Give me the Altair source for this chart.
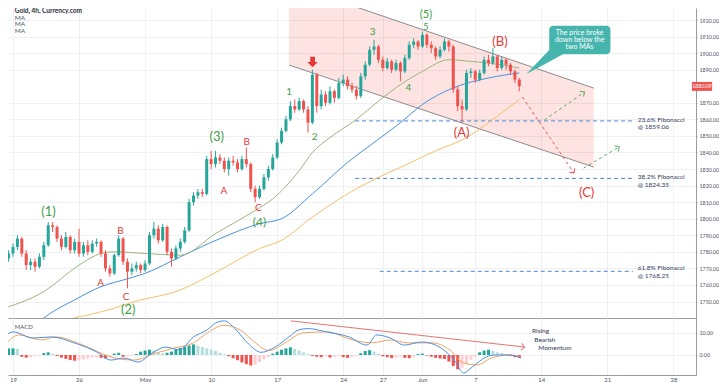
import altair as alt
import pandas as pd

# ---------------- data ----------------
candle_idx = list(range(-1, 116))  # 3 candles per trading day, index 0 = Apr 19
opens = [1776,1779,1783,1788,1779,1772,1774,1771,1777,1784,
         1796,1795,1788,1783,1789,1781,1786,1779,1784,1780,
         1785,1786,1779,1770,1767,1778,1788,1774,1768,1770,
         1772,1769,1773,1790,1794,1787,1795,1780,1776,1782,
         1786,1793,1810,1814,1816,1815,1836,1833,1837,1835,
         1830,1835,1834,1830,1836,1833,1818,1813,1818,1825,
         1830,1837,1846,1853,1860,1868,1866,1871,1866,1858,
         1887,1868,1875,1870,1877,1873,1882,1884,1880,1878,
         1874,1886,1893,1902,1904,1896,1891,1895,1890,1894,
         1889,1897,1905,1907,1904,1911,1905,1903,1898,1902,
         1907,1904,1878,1868,1866,1888,1889,1884,1888,1896,
         1894,1898,1891,1896,1893,1889,1884]
highs = [1781,1785,1790,1789,1781,1776,1776,1779,1786,1798,
         1798,1796,1790,1792,1790,1788,1794,1786,1787,1787,
         1788,1787,1781,1772,1779,1790,1789,1776,1773,1774,
         1773,1775,1792,1798,1796,1797,1796,1782,1784,1788,
         1795,1812,1816,1818,1818,1838,1841,1841,1839,1837,
         1837,1838,1836,1838,1843,1834,1820,1820,1827,1832,
         1839,1848,1855,1862,1871,1872,1873,1872,1868,1890,
         1888,1878,1877,1880,1878,1885,1887,1886,1882,1880,
         1888,1895,1904,1908,1905,1898,1897,1896,1896,1895,
         1899,1907,1909,1908,1913,1912,1907,1904,1904,1909,
         1908,1905,1880,1872,1890,1891,1890,1890,1898,1899,
         1903,1899,1898,1897,1894,1890,1885]
lows = [1774,1777,1781,1777,1769,1769,1768,1770,1775,1783,
        1792,1786,1781,1782,1779,1779,1777,1777,1778,1779,
        1783,1777,1768,1765,1766,1777,1772,1758,1766,1768,
        1767,1768,1772,1788,1785,1786,1778,1771,1775,1780,
        1785,1792,1808,1812,1813,1814,1830,1831,1833,1828,
        1826,1832,1828,1829,1831,1816,1810,1812,1817,1823,
        1829,1836,1845,1852,1859,1864,1865,1864,1852,1857,
        1864,1866,1868,1869,1870,1872,1880,1878,1876,1872,
        1873,1884,1892,1899,1894,1889,1890,1888,1889,1883,
        1888,1896,1903,1902,1903,1903,1900,1896,1897,1901,
        1901,1876,1865,1858,1865,1885,1882,1883,1887,1892,
        1893,1889,1890,1890,1887,1882,1877]
closes = [1779,1783,1788,1779,1772,1774,1771,1777,1784,1796,
          1795,1788,1783,1789,1781,1786,1779,1784,1780,1785,
          1786,1779,1770,1767,1778,1788,1774,1768,1770,1772,
          1769,1773,1790,1794,1787,1795,1780,1776,1782,1786,
          1793,1810,1814,1816,1815,1836,1833,1837,1835,1830,
          1835,1834,1830,1836,1833,1818,1813,1818,1825,1830,
          1837,1846,1853,1860,1868,1866,1871,1866,1858,1887,
          1868,1875,1870,1877,1873,1882,1884,1880,1878,1874,
          1886,1893,1902,1904,1896,1891,1895,1890,1894,1889,
          1897,1905,1907,1904,1911,1905,1903,1898,1902,1907,
          1904,1878,1868,1866,1888,1889,1884,1888,1896,1894,
          1898,1891,1896,1893,1889,1884,1880.09]

tick_idx = [0, 15, 30, 45, 60, 75, 84, 93, 105, 120, 135, 150]
tick_labels = ["19", "26", "May", "10", "17", "24", "27", "Jun", "7", "14", "21", "28"]
price_ticks = [1740, 1750, 1760, 1770, 1780, 1790, 1800, 1810, 1820, 1830, 1840, 1850, 1860, 1870,
               1890, 1900, 1910, 1920]

ma_green_idx = [-2, 7, 15, 20, 23, 30, 38, 46, 55, 59, 65, 68, 72, 78, 83, 88, 93, 99, 104, 108, 115]
ma_green_val = [1746, 1756, 1772, 1779, 1780, 1779, 1778, 1791, 1805, 1812, 1829, 1840, 1849, 1860, 1871, 1881, 1889, 1896, 1895, 1894, 1891]
ma_blue_idx = [6, 8, 14, 20, 25, 30, 38, 47, 56, 61, 68, 76, 83, 88, 93, 100, 108, 115]
ma_blue_val = [1738, 1742, 1751, 1759, 1763, 1767, 1777, 1788, 1797, 1800, 1815, 1834, 1848, 1858, 1869, 1879, 1885, 1888]
ma_orange_idx = [9, 13, 23, 27, 38, 47, 56, 61, 68, 76, 83, 88, 96, 103, 108, 115]
ma_orange_val = [1737, 1739.5, 1746, 1749.5, 1757, 1769, 1782, 1787, 1801, 1815, 1825, 1831, 1841, 1849, 1858, 1872]

macd_idx = [-2, 0, 4.5, 8.7, 13.9, 19, 22.2, 25.3, 28.4, 31.6, 34.7, 37.8, 41, 44.1, 46, 48, 50.4, 53.5, 56.4, 59.5,
            62.7, 64.9, 66.9, 71.2, 76.3, 80.4, 82.6, 85.7, 88.9, 92.9, 97.2, 100.7, 102.3, 104.3, 107.5, 109.7, 112.8, 115.3]
macd_val = [8.2, 10.5, 7.7, 8.2, 5.5, 1.4, -2.3, -1.4, -3.2, 0.9, 3.6, 2.3, 8.2, 11.4, 14.5, 15.5, 12, 5, 1.2, 3.6,
            8.2, 11.4, 12.0, 10.5, 8.2, 4.5, 9.1, 7.7, 4.5, 5.9, 3.2, -3.6, -8.2, -5.5, -0.9, 0, 0, -1.4]
signal_idx = [-1.8, 1.3, 6.5, 9.6, 15.9, 22.2, 27.3, 32.5, 36.7, 41, 44.1, 47.9, 51.9, 54.2, 58.2, 61.8, 65.8, 71.2,
              77.2, 81.5, 85.7, 89.8, 95.1, 99.2, 102.3, 105.4, 108.6, 112.8, 115.3]
signal_val = [4.5, 9.1, 6.8, 8.2, 4.5, -0.9, -2.3, 0.9, 3.2, 5.5, 10, 13.5, 11, 7, 2.0, 5.5, 10, 10.5,
              6.8, 5.5, 6.8, 5.5, 5.5, 2.3, -3.6, -4.5, -1.4, 0, -0.9]
hist_val = [3.0, 3.0, 2.8, -0.8, -1.2, -1.0, -0.6, -0.3, 0.8, 1.2,
            0.6, -0.5, -1.2, -1.8, -2.3, -2.6, -2.4, -2.0, -1.6, -1.2,
            -1.0, -1.3, -1.6, -1.0, 0.6, 1.0, -0.8, -0.6, -0.3, 0.4,
            1.5, 2.0, 2.4, 2.0, 1.2, 0.8, 1.0, 1.5, 2.5, 3.2,
            3.8, 4.3, 4.8, 4.2, 3.6, 3.0, 2.4, 1.8, 1.0, 0.4,
            -0.6, -1.5, -2.4, -3.4, -4.2, -4.8, -4.4, -3.2, -2.0, -1.0,
            0.6, 1.5, 2.4, 3.0, 3.5, 2.8, 2.0, 1.2, 0.5, -0.4,
            -0.8, -1.0, -0.6, -1.2, -0.9, -0.5, -1.0, -1.3, -0.8, -0.4,
            0.8, 1.8, 2.2, 1.6, 0.6, -0.6, -1.0, -1.4, -1.2, -0.8,
            -1.3, -1.5, -1.0, 0.4, 0.6, -0.3, -0.8, -1.3, -1.6, -1.8,
            -3.0, -5.0, -6.5, -5.8, -4.0, -2.2, -0.8, 1.2, 2.0, 2.4,
            1.8, 1.2, 0.8, 0.4, -0.5, -1.0, -1.4]

fib_levels = [1859.06, 1824.35, 1768.25]
fib_names = ["23.6% Fibonacci", "38.2% Fibonacci", "61.8% Fibonacci"]

# ---------------- styles ----------------
UP, DN = "#26a69a", "#ef5350"
GRID = "#eef0f4"
SEP = "#9a9ca3"
LBL = "#50535e"
GRN, RED = "#43a047", "#e53935"
TEAL = "#45b5ad"
FONT = "Lato"
PLOT_W = 688

xs = alt.Scale(domain=[0, 154.0], nice=False, zero=False)
ys = alt.Scale(domain=[1740.05, 1927.25], nice=False, zero=False)
ms = alt.Scale(domain=[-9.1, 16.8], nice=False, zero=False)

ax_x_main = alt.Axis(values=tick_idx, grid=True, gridColor=GRID, labels=False, ticks=False,
                     domain=True, domainColor=SEP, title=None)
ax_y_main = alt.Axis(orient="right", values=price_ticks, format=".2f", labelFontSize=5.3,
                     labelColor=LBL, labelFont=FONT, tickSize=1, tickColor=SEP, domainColor=SEP, grid=True,
                     gridColor=GRID, title=None, labelOverlap=False, labelPadding=2)
label_expr = " : ".join(f"datum.value == {v} ? '{t}'" for v, t in zip(tick_idx, tick_labels)) + " : ''"
ax_x_macd = alt.Axis(values=tick_idx, grid=True, gridColor=GRID, labelExpr=label_expr, labelFontSize=6,
                     labelColor=LBL, labelFont=FONT, tickSize=0, domainColor=SEP, title=None,
                     labelPadding=1, labelFlush=True)
ax_y_macd = alt.Axis(orient="right", values=[0, 10], format=".2f", labelFontSize=5.3, labelColor=LBL,
                     labelFont=FONT, tickSize=1, tickColor=SEP, domainColor=SEP, grid=True, gridColor=GRID,
                     title=None, labelPadding=2)


def X(f):
    return alt.X(f, type="quantitative", scale=xs, axis=ax_x_main)


def Y(f):
    return alt.Y(f, type="quantitative", scale=ys, axis=ax_y_main)


def XM(f):
    return alt.X(f, type="quantitative", scale=xs, axis=ax_x_macd)


def YM(f):
    return alt.Y(f, type="quantitative", scale=ms, axis=ax_y_macd)


cdf = pd.DataFrame({"k": candle_idx, "o": opens, "h": highs, "l": lows, "c": closes})
cdf["col"] = [UP if c >= o else DN for o, c in zip(opens, closes)]

# channel
chan = pd.DataFrame({"k": [62.7, 131.9], "lo": [1892.8, 1831.2], "hi": [1941.7, 1878.9]})
chan_lines = pd.DataFrame({"k": [62.7, 131.9, 62.7, 131.9], "p": [1892.8, 1831.2, 1941.7, 1878.9],
                           "g": ["a", "a", "b", "b"]})
fill = alt.Chart(chan).mark_area(clip=True, color="#f44336", opacity=0.15).encode(x=X("k"), y=Y("lo"), y2="hi")
clines = alt.Chart(chan_lines).mark_line(clip=True, color="#8c8c8c", strokeWidth=1).encode(
    x=X("k"), y=Y("p"), detail="g:N")

fib_df = pd.DataFrame({"k1": [77.7, 77.7, 83.3], "k2": [140.8] * 3, "p": fib_levels})
fib = alt.Chart(fib_df).mark_rule(strokeDash=[4, 3], color="#4a86d8", strokeWidth=1).encode(
    x=X("k1"), x2="k2", y=Y("p"))
fib_txt_df = pd.DataFrame({
    "k": [141.9] * 6,
    "p": [1859.9, 1855.4, 1825.1, 1820.6, 1770.1, 1765.6],
    "t": [fib_names[0], "@ " + f"{fib_levels[0]:.2f}", fib_names[1], "@ " + f"{fib_levels[1]:.2f}",
          fib_names[2], "@ " + f"{fib_levels[2]:.2f}"]})
fib_txt = alt.Chart(fib_txt_df).mark_text(align="left", baseline="middle", fontSize=6.5, font=FONT,
                                          color="#2f3a56", clip=True).encode(x=X("k"), y=Y("p"), text="t:N")


def ma_layer(idx, vals, color):
    d = pd.DataFrame({"k": idx, "v": vals})
    return alt.Chart(d).mark_line(clip=True, color=color, strokeWidth=1, interpolate="monotone").encode(
        x=X("k"), y=Y("v"))


ma1 = ma_layer(ma_green_idx, ma_green_val, "#9db47c")
ma2 = ma_layer(ma_blue_idx, ma_blue_val, "#4a90e2")
ma3 = ma_layer(ma_orange_idx, ma_orange_val, "#f5c06a")

wick = alt.Chart(cdf).mark_rule(clip=True, strokeWidth=1).encode(
    x=X("k"), y=Y("l"), y2="h", color=alt.Color("col:N", scale=None))
body = alt.Chart(cdf).mark_bar(clip=True, size=3).encode(
    x=X("k"), y=Y("o"), y2="c", color=alt.Color("col:N", scale=None))

# wave labels
wl = pd.DataFrame([
    ("(1)", 8.06, 1804.1, GRN, 13), ("(2)", 26.2, 1745.1, GRN, 13), ("(3)", 46.3, 1849.3, GRN, 13),
    ("(4)", 56.0, 1797.8, GRN, 12), ("(5)", 93.8, 1923.2, GRN, 11),
    ("1", 62.7, 1876.5, GRN, 10), ("2", 68.5, 1849.3, GRN, 10), ("3", 81.7, 1912.8, GRN, 10),
    ("4", 89.8, 1878.9, GRN, 10), ("5", 93.8, 1915.5, GRN, 9),
    ("A", 19.9, 1761.2, RED, 10), ("B", 24.4, 1792.6, RED, 10), ("C", 25.7, 1752.7, RED, 10),
    ("A", 47.9, 1816.7, RED, 10), ("B", 53.1, 1846.3, RED, 10), ("C", 55.7, 1806.2, RED, 10),
    ("(A)", 101.9, 1851.8, RED, 13), ("(B)", 110.6, 1906.7, RED, 13), ("(C)", 130.3, 1815.5, RED, 13),
], columns=["t", "k", "p", "col", "fs"])
waves = alt.Chart(wl).mark_text(font=FONT, baseline="middle", align="center", clip=True).encode(
    x=X("k"), y=Y("p"), text="t:N", color=alt.Color("col:N", scale=None), size=alt.Size("fs:Q", scale=None))

arrow_df = pd.DataFrame({"k": [68.05], "p": [1894.6]})
down_arrow = alt.Chart(arrow_df).mark_point(
    shape="M-0.45,-1L0.45,-1L0.45,0L1,0L0,1L-1,0L-0.45,0Z", filled=True, color=RED, opacity=1,
    size=110, strokeWidth=0, clip=True).encode(x=X("k"), y=Y("p"))

# projection arrows
proj = pd.DataFrame({
    "k": [115.7, 127.4, 120.7, 129.8, 129.6, 137.7],
    "p": [1873.5, 1827.6, 1859.6, 1876.5, 1830.6, 1843.3],
    "g": ["r", "r", "g1", "g1", "g2", "g2"],
    "col": [RED, RED, GRN, GRN, GRN, GRN]})
proj_lines = alt.Chart(proj).mark_line(strokeDash=[3, 3], strokeWidth=1, clip=True, opacity=0.85).encode(
    x=X("k"), y=Y("p"), detail="g:N", color=alt.Color("col:N", scale=None))
heads = pd.DataFrame({"k": [127.4, 129.8, 137.7], "p": [1827.6, 1876.5, 1843.3],
                      "ang": [55.5, 325.4, 329.9], "col": [RED, GRN, GRN]})
proj_heads = alt.Chart(heads).mark_point(shape="M-1,-1L0,0L-1,1", filled=False, size=45, strokeWidth=1,
                                         opacity=0.85, clip=True).encode(
    x=X("k"), y=Y("p"), angle=alt.Angle("ang:Q", scale=None), color=alt.Color("col:N", scale=None))

# callout
box_df = pd.DataFrame({"k1": [121.8], "k2": [135.7], "p1": [1916.6], "p2": [1899.3]})
box = alt.Chart(box_df).mark_rect(cornerRadius=4, color=TEAL, clip=True).encode(
    x=X("k1"), x2="k2", y=Y("p1"), y2="p2")
tail_df = pd.DataFrame({"k": [116.6, 121.8, 124.9], "p": [1887.4, 1901.9, 1901.9], "p2": [1887.4, 1894.8, 1899.3]})
tail = alt.Chart(tail_df).mark_area(color=TEAL, clip=True).encode(x=X("k"), y=Y("p"), y2="p2")
call_txt_df = pd.DataFrame({"k": [128.7] * 3, "p": [1912.2, 1907.9, 1903.7],
                            "t": ["The price broke", "down below the", "two MAs"]})
call_txt = alt.Chart(call_txt_df).mark_text(color="white", fontSize=7, font=FONT, align="center",
                                            baseline="middle", clip=True).encode(x=X("k"), y=Y("p"), text="t:N")

# header text
head_df = pd.DataFrame({"k": [0.4, 0.4, 0.4, 0.4], "p": [1925.2, 1921.4, 1917.3, 1913.1],
                        "t": ["Gold, 4h, Currency.com", "MA", "MA", "MA"]})
head_bold = alt.Chart(head_df.iloc[:1]).mark_text(align="left", baseline="middle", fontSize=6.5, font=FONT,
                                                 fontWeight="bold", color="#2a2e39", clip=True).encode(
    x=X("k"), y=Y("p"), text="t:N")
head_ma = alt.Chart(head_df.iloc[1:]).mark_text(align="left", baseline="middle", fontSize=6.5, font=FONT,
                                               color="#50535e", clip=True).encode(x=X("k"), y=Y("p"), text="t:N")

# current price tag
tag_df = pd.DataFrame({"k1": [154.2], "k2": [158.8], "p1": [1882.6], "p2": [1877.2], "kc": [156.5],
                       "pc": [1879.9], "t": ["1880.09"]})
tag = alt.Chart(tag_df).mark_rect(color=DN).encode(x=X("k1"), x2="k2", y=Y("p1"), y2="p2")
tag_txt = alt.Chart(tag_df).mark_text(color="white", fontSize=5.3, font=FONT, align="center",
                                      baseline="middle").encode(x=X("kc"), y=Y("pc"), text="t:N")

main = alt.layer(fill, fib, clines, ma3, ma2, ma1, wick, body, fib_txt, waves, down_arrow, proj_lines,
                 proj_heads, tail, box, call_txt, head_bold, head_ma, tag, tag_txt).properties(
    width=PLOT_W, height=310)

# ---------------- MACD pane ----------------
hdf = pd.DataFrame({"k": candle_idx, "h": hist_val})
cols = []
prev = None
for v in hist_val:
    if v >= 0:
        cols.append("#26a69a" if prev is None or v >= prev else "#b2dfdb")
    else:
        cols.append("#ef5350" if prev is None or v <= prev else "#ffcdd2")
    prev = v
hdf["col"] = cols
hist = alt.Chart(hdf).mark_bar(size=3, clip=True).encode(
    x=XM("k"), y=YM("h"), y2=alt.datum(0), color=alt.Color("col:N", scale=None))
mline = alt.Chart(pd.DataFrame({"k": macd_idx, "v": macd_val})).mark_line(
    color="#4a90e2", strokeWidth=1, clip=True, interpolate="monotone").encode(x=XM("k"), y=YM("v"))
sline = alt.Chart(pd.DataFrame({"k": signal_idx, "v": signal_val})).mark_line(
    color="#f0a35e", strokeWidth=1, clip=True, interpolate="monotone").encode(x=XM("k"), y=YM("v"))
mom_df = pd.DataFrame({"k": [63.1, 116.2], "v": [15.5, 3.6]})
mom = alt.Chart(mom_df).mark_line(color="#e57373", strokeWidth=1, clip=True).encode(x=XM("k"), y=YM("v"))
mom_head = alt.Chart(mom_df.iloc[1:]).mark_point(shape="M-1,-1L0,0L-1,1", filled=False, size=45,
                                                 strokeWidth=1, color="#e57373", angle=6.3, opacity=1,
                                                 clip=True).encode(x=XM("k"), y=YM("v"))
mom_txt_df = pd.DataFrame({"k": [117.9, 118.4, 119.3], "v": [11.0, 7.0, 3.0], "t": ["Rising", "Bearish", "Momentum"]})
mom_txt = alt.Chart(mom_txt_df).mark_text(align="left", baseline="middle", fontSize=6.5, font=FONT,
                                          color="#2f3a56", clip=True).encode(x=XM("k"), y=YM("v"), text="t:N")
macd_lbl = alt.Chart(pd.DataFrame({"k": [0.4], "v": [12.6], "t": ["MACD"]})).mark_text(
    align="left", baseline="middle", fontSize=6, font=FONT, color="#50535e", clip=True).encode(
    x=XM("k"), y=YM("v"), text="t:N")

macd = alt.layer(hist, sline, mline, mom, mom_head, mom_txt, macd_lbl).properties(width=PLOT_W, height=57)

chart = alt.vconcat(main, macd, spacing=0, bounds="flush").properties(padding=0).configure_view(stroke=None)

chart.save("out.html", embed_options={"renderer": "svg", "actions": False})
